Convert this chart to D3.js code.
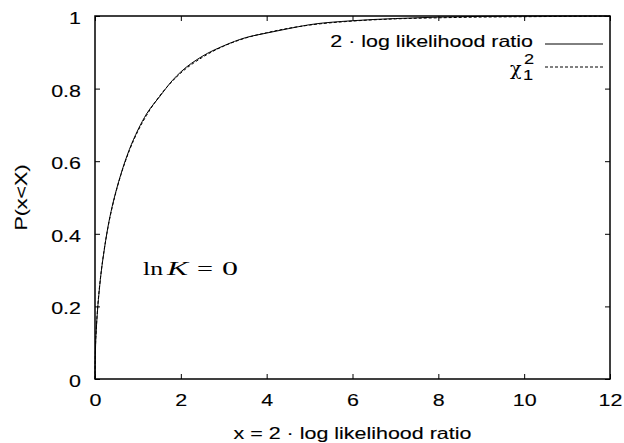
<!DOCTYPE html>
<html>
<head>
<meta charset="utf-8">
<script src="https://cdn.jsdelivr.net/npm/d3@7"></script>
<style>
  body { margin: 0; background: #fff; }
  svg { font-family: "Liberation Sans", Arial, sans-serif; }
  text.wide { stroke: #000; stroke-width: 0.12px; }
</style>
</head>
<body>
<div id="visContainer"></div>
<script>
// values
const xValues = [0, 0.01, 0.03, 0.06, 0.1, 0.15, 0.2, 0.3, 0.4, 0.5, 0.6, 0.8, 1.0, 1.2, 1.5,
  1.8, 2.0, 2.5, 3.0, 3.5, 4.0, 4.5, 5.0, 6.0, 7.0, 8.0, 9.0, 10, 11, 12];
const llrCdf = [0, 0.075, 0.135, 0.19, 0.245, 0.3, 0.343, 0.418, 0.475, 0.522, 0.563, 0.632, 0.686, 0.73, 0.777,
  0.822, 0.846, 0.889, 0.918, 0.94, 0.953, 0.965, 0.976, 0.987, 0.993, 0.997, 0.999, 1, 1, 1];
const chiCdf = [0, 0.08, 0.137, 0.194, 0.248, 0.301, 0.345, 0.416, 0.473, 0.52, 0.561, 0.629, 0.683, 0.726, 0.779,
  0.82, 0.843, 0.886, 0.917, 0.939, 0.954, 0.966, 0.975, 0.986, 0.992, 0.995, 0.997, 0.998, 0.999, 0.9995];
const xTicks = [0, 2, 4, 6, 8, 10, 12];
const yTicks = [0, 0.2, 0.4, 0.6, 0.8, 1];

const width = 624;
const height = 443;
const margin = {top: 16, right: 14, bottom: 64, left: 95};
const stretch = 1.3; // the scanned lettering is wider than Liberation Sans

const svg = d3.select("#visContainer")
  .append("svg")
  .attr("width", width)
  .attr("height", height);

const xScale = d3.scaleLinear()
  .domain([0, 12])
  .range([margin.left, width - margin.right]);

const yScale = d3.scaleLinear()
  .domain([0, 1])
  .range([height - margin.bottom, margin.top]);

const fmt = d => d === 0 || d === 1 ? String(d) : d3.format(".1f")(d);

// axes with inward ticks, mirrored on top and right
const xAxis = svg.append("g")
  .attr("transform", `translate(0, ${yScale(0)})`)
  .call(d3.axisBottom(xScale).tickValues(xTicks).tickSize(-5).tickPadding(15).tickFormat(d => d));
const yAxis = svg.append("g")
  .attr("transform", `translate(${xScale(0)}, 0)`)
  .call(d3.axisLeft(yScale).tickValues(yTicks).tickSize(-5).tickPadding(14).tickFormat(fmt));
svg.append("g")
  .attr("transform", `translate(0, ${yScale(1)})`)
  .call(d3.axisTop(xScale).tickValues(xTicks).tickSize(-5).tickFormat(""));
svg.append("g")
  .attr("transform", `translate(${xScale(12)}, 0)`)
  .call(d3.axisRight(yScale).tickValues(yTicks).tickSize(-5).tickFormat(""));

svg.selectAll(".domain").remove();
svg.selectAll(".tick line").attr("stroke", "#000").attr("stroke-width", 1);
xAxis.selectAll(".tick text").classed("wide", true);
yAxis.selectAll(".tick text").classed("wide", true);
svg.selectAll(".tick text").attr("fill", "#000").style("font-size", "16.5px");
yAxis.selectAll(".tick text").attr("dy", "0.45em");

// curves
const line = d3.line()
  .x((d, i) => xScale(xValues[i]))
  .y(d => yScale(d))
  .curve(d3.curveMonotoneX);

svg.append("path")
  .datum(chiCdf)
  .attr("d", line)
  .attr("fill", "none")
  .attr("stroke", "#000")
  .attr("stroke-width", 1)
  .attr("stroke-dasharray", "3,2");

svg.append("path")
  .datum(llrCdf)
  .attr("d", line)
  .attr("fill", "none")
  .attr("stroke", "#000")
  .attr("stroke-width", 1);

// frame
svg.append("rect")
  .attr("x", xScale(0))
  .attr("y", yScale(1))
  .attr("width", xScale(12) - xScale(0))
  .attr("height", yScale(0) - yScale(1))
  .attr("fill", "none")
  .attr("stroke", "#000")
  .attr("stroke-width", 1.5);

// legend
const legend = svg.append("g").style("font-size", "16.5px");
legend.append("text")
  .attr("class", "wide")
  .attr("x", 533).attr("y", 47)
  .attr("text-anchor", "end")
  .text("2 · log likelihood ratio");
legend.append("line")
  .attr("x1", 545).attr("x2", 603).attr("y1", 44).attr("y2", 44)
  .attr("stroke", "#000");
legend.append("text")
  .attr("x", 510).attr("y", 75)
  .style("font-family", "'DejaVu Serif', serif")
  .style("font-size", "19px")
  .text("χ");
legend.append("text").attr("class", "wide").attr("x", 524).attr("y", 64).style("font-size", "14px").text("2");
legend.append("text").attr("class", "wide").attr("x", 523).attr("y", 80).style("font-size", "14px").text("1");
legend.append("line")
  .attr("x1", 545).attr("x2", 603).attr("y1", 67).attr("y2", 67)
  .attr("stroke", "#000")
  .attr("stroke-dasharray", "3,2");

// annotation, laid out piece by piece like TeX math
const annParts = [
  {t: "ln", x: 143, w: 20, italic: false},
  {t: "K", x: 167, w: 21, italic: true},
  {t: "=", x: 197, w: 16, italic: false},
  {t: "0", x: 222, w: 16, italic: false}
];
svg.append("g")
  .selectAll("text")
  .data(annParts)
  .join("text")
  .attr("x", d => d.x)
  .attr("y", 275)
  .attr("textLength", d => d.w)
  .attr("lengthAdjust", "spacingAndGlyphs")
  .style("font-family", "'Liberation Serif', 'DejaVu Serif', serif")
  .style("font-style", d => d.italic ? "italic" : "normal")
  .style("font-size", "18px")
  .text(d => d.t);

// axis titles
svg.append("text")
  .attr("class", "wide")
  .attr("x", (xScale(0) + xScale(12)) / 2)
  .attr("y", 439)
  .attr("text-anchor", "middle")
  .style("font-size", "16.5px")
  .text("x = 2 · log likelihood ratio");

svg.append("text")
  .attr("class", "wide")
  .attr("transform", `translate(27, ${yScale(0.5)}) rotate(-90)`)
  .attr("text-anchor", "middle")
  .style("font-size", "16.5px")
  .text("P(x<X)");

// widen the sans lettering to match the scan
svg.selectAll("text.wide").each(function () {
  const w = this.getComputedTextLength();
  d3.select(this).attr("textLength", w * stretch).attr("lengthAdjust", "spacingAndGlyphs");
});
</script>
</body>
</html>
